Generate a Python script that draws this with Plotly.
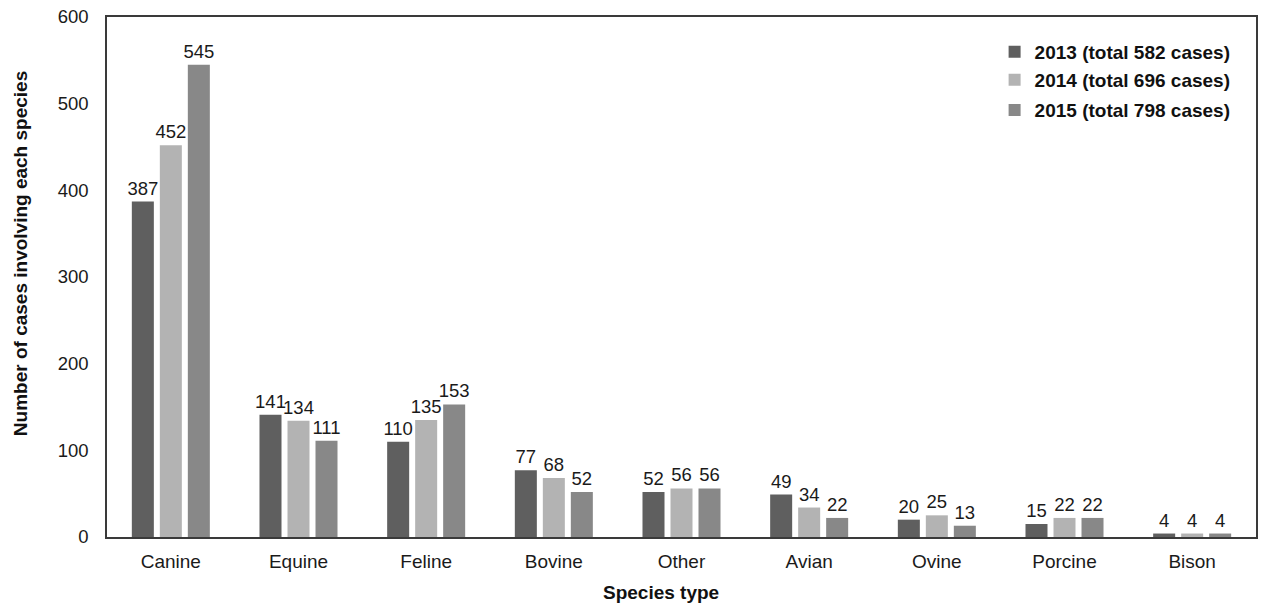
import plotly.graph_objs as go

species = ["Canine", "Equine", "Feline", "Bovine", "Other", "Avian", "Ovine", "Porcine", "Bison"]
cases_2013 = [387, 141, 110, 77, 52, 49, 20, 15, 4]
cases_2014 = [452, 134, 135, 68, 56, 34, 25, 22, 4]
cases_2015 = [545, 111, 153, 52, 56, 22, 13, 22, 4]
series_names = ["2013 (total 582 cases)", "2014 (total 696 cases)", "2015 (total 798 cases)"]
y_ticks = [0, 100, 200, 300, 400, 500, 600]

FONT = "Arial, Liberation Sans, sans-serif"
colors = ["#5f5f5f", "#b3b3b3", "#888888"]
legend_ids = ["legend", "legend2", "legend3"]
legend_y = [0.933, 0.879, 0.821]

fig = go.Figure()
for name, vals, col, lg in zip(series_names, [cases_2013, cases_2014, cases_2015], colors, legend_ids):
    fig.add_trace(go.Bar(
        x=species, y=vals, name=name, legend=lg,
        marker=dict(color=col, line=dict(width=0)),
        text=vals, textposition="outside", cliponaxis=False, constraintext="none",
        textfont=dict(family=FONT, size=18.5, color="#1a1a1a"),
    ))

legend_style = dict(
    x=0.7725, xanchor="left", yanchor="middle",
    font=dict(family=FONT, size=19, color="#111111", weight="bold"),
    bgcolor="rgba(0,0,0,0)", itemwidth=30,
)

fig.update_layout(
    width=1263, height=603,
    margin=dict(l=107, r=7, t=17, b=66),
    paper_bgcolor="white", plot_bgcolor="white",
    barmode="group", bargap=0.342, bargroupgap=0.214,
    font=dict(family=FONT, size=18.5, color="#1a1a1a"),
    showlegend=True,
    legend=dict(y=legend_y[0], **legend_style),
    legend2=dict(y=legend_y[1], **legend_style),
    legend3=dict(y=legend_y[2], **legend_style),
    xaxis=dict(
        automargin=False,
        showline=True, linecolor="#3a3a3a", linewidth=1.5, mirror=True,
        ticks="", tickfont=dict(size=19), ticklabelstandoff=6,
    ),
    yaxis=dict(
        automargin=False, ticklabeloverflow="allow",
        range=[0, 600], tickvals=y_ticks, showgrid=False, zeroline=False,
        showline=True, linecolor="#3a3a3a", linewidth=1.5, mirror=True,
        ticks="", tickfont=dict(size=18.5), ticklabelstandoff=13,
    ),
    annotations=[
        dict(text="<b>Species type</b>", xref="paper", yref="paper", x=0.482, y=-0.106,
             showarrow=False, font=dict(size=19, color="#111111"), xanchor="center", yanchor="middle"),
        dict(text="<b>Number of cases involving each species</b>", xref="paper", yref="paper",
             x=-0.0757, y=0.544, textangle=-90, showarrow=False,
             font=dict(size=19, color="#111111"), xanchor="center", yanchor="middle"),
    ],
)

# drop the default 8px body margin so the figure fills the window exactly
fig.write_html("out.html", config={"displayModeBar": False},
               post_script="document.body.style.margin = '0';")
